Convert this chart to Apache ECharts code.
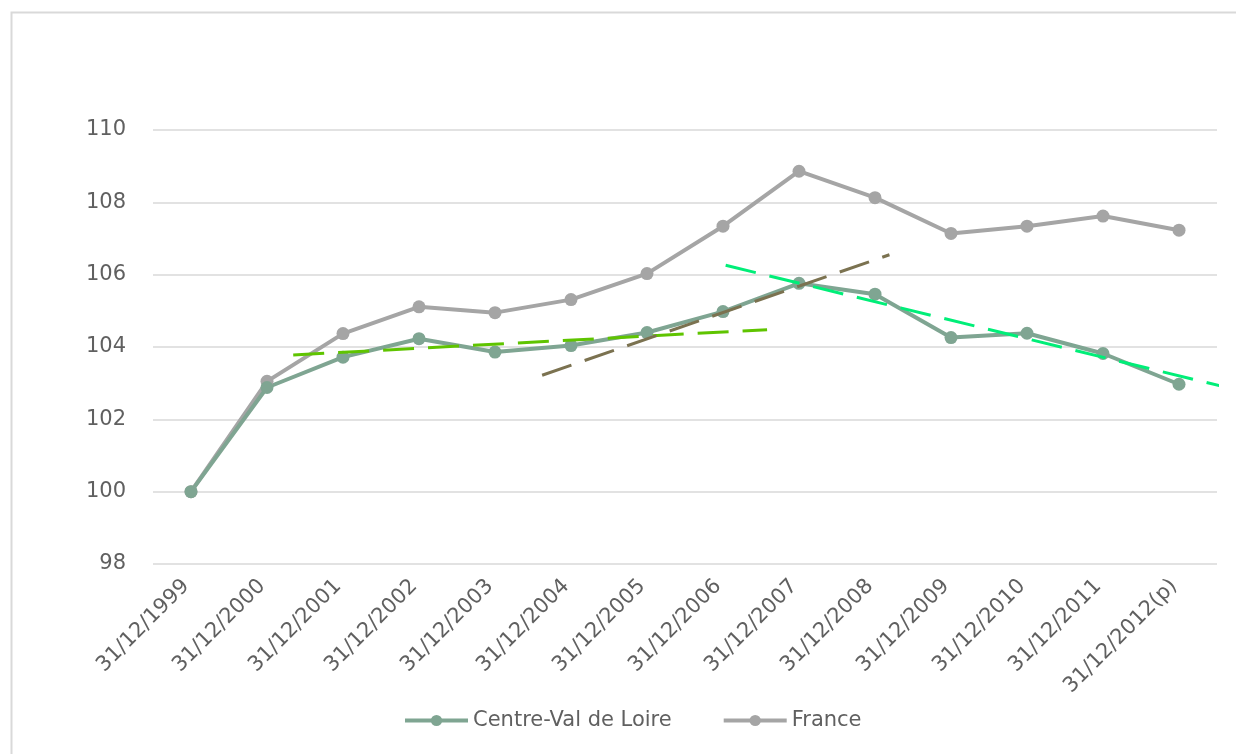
<!DOCTYPE html>
<html>
<head>
<meta charset="utf-8">
<script src="https://cdn.jsdelivr.net/npm/echarts@6/dist/echarts.min.js"></script>
<style>
  html, body { margin: 0; padding: 0; background: #ffffff; }
  #chart { width: 1236px; height: 754px; }
</style>
</head>
<body>
<div id="chart"></div>
<script>
// Index values (base 100 at 31/12/1999)
const categories = [
  '31/12/1999', '31/12/2000', '31/12/2001', '31/12/2002', '31/12/2003',
  '31/12/2004', '31/12/2005', '31/12/2006', '31/12/2007', '31/12/2008',
  '31/12/2009', '31/12/2010', '31/12/2011', '31/12/2012(p)'
];
const centreValues = [100, 102.88, 103.72, 104.23, 103.86, 104.04, 104.40, 104.98, 105.76, 105.46, 104.26, 104.38, 103.82, 102.97];
const franceValues = [100, 103.05, 104.37, 105.11, 104.95, 105.31, 106.03, 107.34, 108.86, 108.13, 107.14, 107.34, 107.62, 107.23];

// Trend segments: [category position, index value] end points
const trendFlat = [[1.345, 103.78], [7.58, 104.48]];
const trendRise = [[4.62, 103.22], [9.19, 106.55]];
const trendFall = [[7.035, 106.26], [13.67, 102.86]];

const yTicks = { min: 98, max: 110, step: 2 };

const labelColor = '#606060';
const font = 'DejaVu Sans';

const chart = echarts.init(document.getElementById('chart'), null, { renderer: 'canvas' });

function trendSeries(name, data, color) {
  return {
    name: name,
    type: 'line',
    xAxisIndex: 1,
    data: data,
    symbol: 'none',
    clip: false,
    silent: true,
    z: 3,
    lineStyle: { color: color, width: 3, type: [31, 14] }
  };
}

chart.setOption({
  animation: false,
  backgroundColor: '#ffffff',
  graphic: [{
    type: 'rect',
    shape: { x: 11.5, y: 12.5, width: 1300, height: 800 },
    style: { fill: 'none', stroke: '#d9d9d9', lineWidth: 2 },
    silent: true
  }],
  grid: { left: 153, right: 19, top: 130, bottom: 190, containLabel: false },
  legend: {
    left: 403,
    top: 710,
    padding: 0,
    itemWidth: 63,
    itemHeight: 14,
    itemGap: 50,
    data: ['Centre-Val de Loire', 'France'],
    lineStyle: { width: 4 },
    textStyle: { fontFamily: font, fontSize: 21, color: labelColor }
  },
  xAxis: [{
    type: 'category',
    data: categories,
    boundaryGap: true,
    axisLine: { show: false },
    axisTick: { show: false },
    axisLabel: {
      interval: 0,
      rotate: 45,
      margin: 14,
      padding: [0, 7, 0, 0],
      fontFamily: font,
      fontSize: 21,
      color: labelColor
    }
  }, {
    type: 'value',
    min: -0.5,
    max: 13.5,
    show: false
  }],
  yAxis: {
    type: 'value',
    min: yTicks.min,
    max: yTicks.max,
    interval: yTicks.step,
    axisLine: { show: false },
    axisTick: { show: false },
    axisLabel: { margin: 27, fontFamily: font, fontSize: 21, color: labelColor },
    splitLine: { lineStyle: { color: '#d9d9d9', width: 1.5 } }
  },
  series: [
    {
      name: 'France',
      type: 'line',
      data: franceValues,
      symbol: 'circle',
      symbolSize: 13,
      z: 2,
      itemStyle: { color: '#a5a5a5' },
      lineStyle: { color: '#a5a5a5', width: 4 }
    },
    {
      name: 'Centre-Val de Loire',
      type: 'line',
      data: centreValues,
      symbol: 'circle',
      symbolSize: 13,
      z: 2,
      itemStyle: { color: '#7fa592' },
      lineStyle: { color: '#7fa592', width: 4 }
    },
    trendSeries('tendance 2000-2006', trendFlat, '#5fc400'),
    trendSeries('tendance 2004-2008', trendRise, '#7b7250'),
    trendSeries('tendance 2006-2012', trendFall, '#00ee78')
  ]
});
</script>
</body>
</html>
